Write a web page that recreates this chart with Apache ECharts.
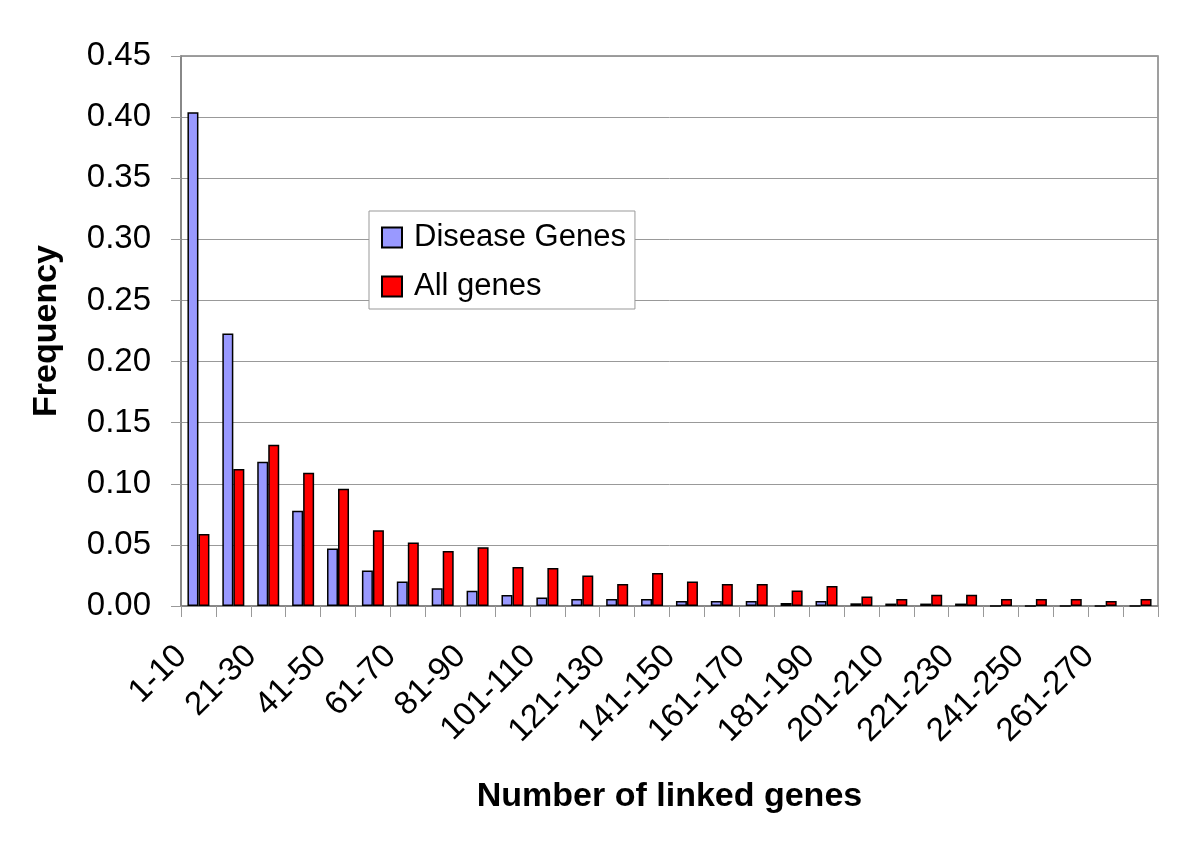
<!DOCTYPE html>
<html>
<head>
<meta charset="utf-8">
<script src="https://cdn.jsdelivr.net/npm/echarts@6/dist/echarts.min.js"></script>
<style>
  html, body { margin: 0; padding: 0; background: #fff; }
  #chart { width: 1200px; height: 856px; }
</style>
</head>
<body>
<div id="chart"></div>
<script>
// bins of "number of linked genes"
var categories = ['1-10', '11-20', '21-30', '31-40', '41-50', '51-60', '61-70', '71-80',
  '81-90', '91-100', '101-110', '111-120', '121-130', '131-140', '141-150', '151-160',
  '161-170', '171-180', '181-190', '191-200', '201-210', '211-220', '221-230', '231-240',
  '241-250', '251-260', '261-270', '271-280'];

var diseaseGenes = [0.404, 0.223, 0.118, 0.078, 0.047, 0.029, 0.020, 0.0145, 0.0124, 0.009,
  0.007, 0.0058, 0.0058, 0.0058, 0.004, 0.004, 0.004, 0.0025, 0.004, 0.0022, 0.002, 0.002,
  0.002, 0, 0, 0, 0, 0];

var allGenes = [0.059, 0.112, 0.132, 0.109, 0.096, 0.062, 0.052, 0.045, 0.048, 0.032,
  0.031, 0.025, 0.018, 0.027, 0.020, 0.018, 0.018, 0.0126, 0.0164, 0.0077, 0.0058, 0.0093,
  0.0093, 0.0058, 0.0058, 0.0058, 0.004, 0.0058];

var yTicks = { min: 0, max: 0.45, interval: 0.05 };

var font = 'Liberation Sans, Arial, sans-serif';
var myChart = echarts.init(document.getElementById('chart'));

myChart.setOption({
    backgroundColor: '#fff',
    animation: false,
    textStyle: { fontFamily: font },
    grid: {
        left: 181, top: 56, width: 977, height: 550,
        show: true, borderColor: '#808080', borderWidth: 1.5
    },
    legend: {
        left: 369, top: 211,
        orient: 'vertical',
        itemWidth: 20, itemHeight: 20,
        itemGap: 18,
        padding: [11, 9, 7, 12],
        borderColor: '#999', borderWidth: 1,
        backgroundColor: '#fff',
        icon: 'rect',
        textStyle: { fontSize: 31, color: '#000', fontFamily: font, padding: [0, 0, 0, 7], lineHeight: 31 },
        data: ['Disease Genes', 'All genes']
    },
    xAxis: {
        type: 'category',
        data: categories,
        name: 'Number of linked genes',
        nameLocation: 'middle',
        nameGap: 174,
        nameTextStyle: { fontSize: 34, fontWeight: 'bold', color: '#000', fontFamily: font, verticalAlign: 'top' },
        axisLine: { lineStyle: { color: '#808080', width: 1.5 } },
        axisTick: { show: true, interval: 0, length: 11, lineStyle: { color: '#999' } },
        axisLabel: {
            interval: 1, rotate: 45, fontSize: 33, color: '#000', margin: 28, fontFamily: font,
            padding: [0, 24, 0, 0]
        },
        splitLine: { show: false }
    },
    yAxis: {
        type: 'value',
        min: yTicks.min, max: yTicks.max, interval: yTicks.interval,
        name: 'Frequency',
        nameLocation: 'middle',
        nameGap: 117,
        nameTextStyle: { fontSize: 34, fontWeight: 'bold', color: '#000', fontFamily: font },
        axisLine: { show: true, lineStyle: { color: '#808080', width: 1.5 } },
        axisTick: { show: true, length: 10, lineStyle: { color: '#999' } },
        axisLabel: {
            fontSize: 33, color: '#000', margin: 30, fontFamily: font,
            formatter: function (v) { return v.toFixed(2); }
        },
        splitLine: { show: true, lineStyle: { color: '#999', width: 1 } }
    },
    series: [
        {
            name: 'Disease Genes',
            type: 'bar',
            data: diseaseGenes,
            barWidth: 11,
            barGap: '0%',
            itemStyle: { color: '#9999ff', borderColor: '#000', borderWidth: 1.5 }
        },
        {
            name: 'All genes',
            type: 'bar',
            data: allGenes,
            barWidth: 11,
            barGap: '0%',
            itemStyle: { color: '#ff0000', borderColor: '#000', borderWidth: 1.5 }
        }
    ]
});

window.addEventListener('resize', function () { myChart.resize(); });
</script>
</body>
</html>
